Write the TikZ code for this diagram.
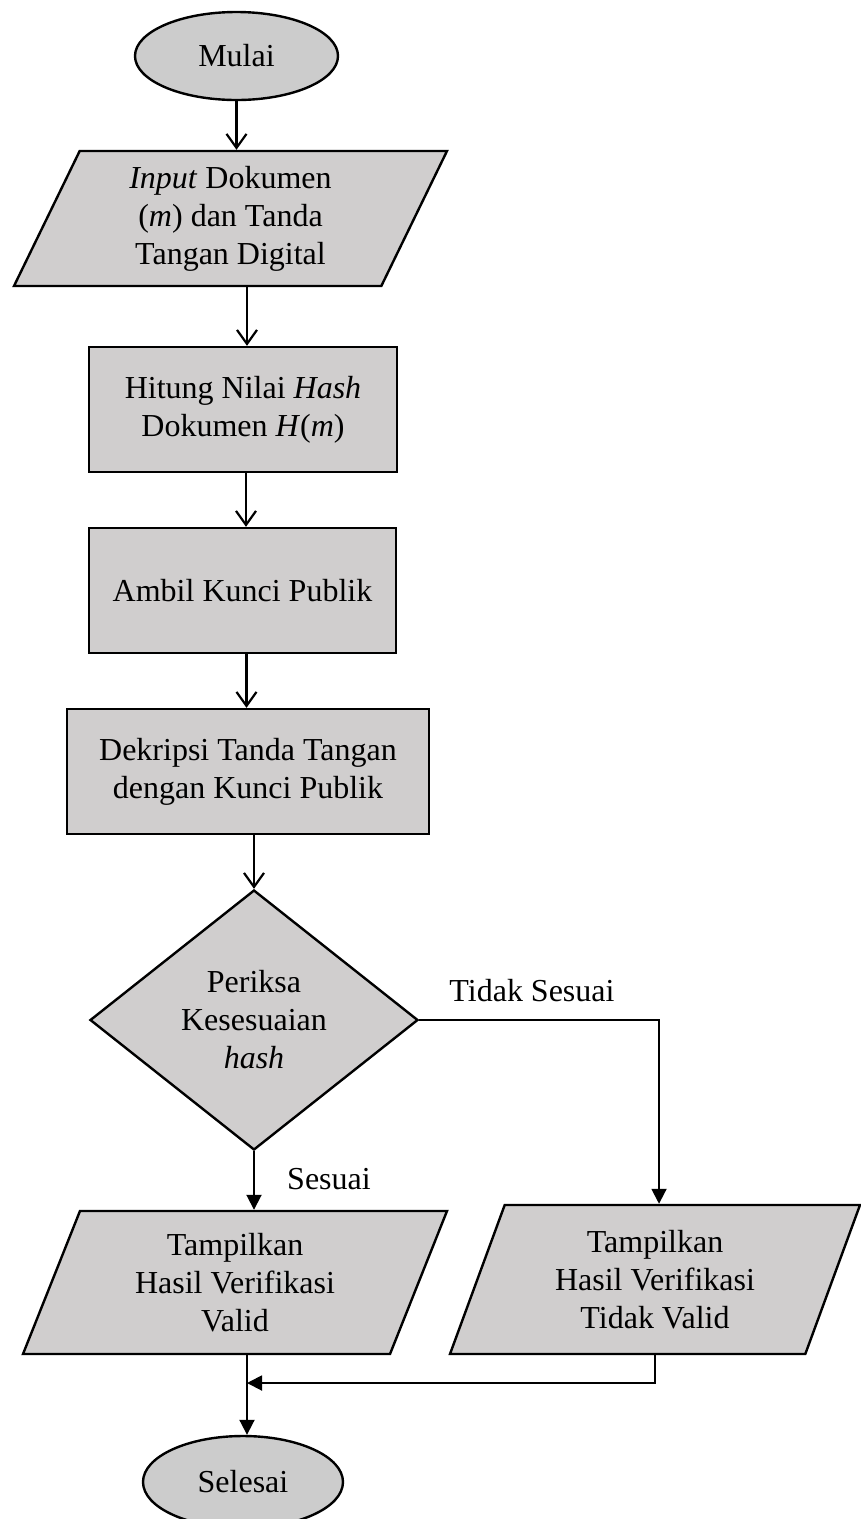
\documentclass[tikz,border=0pt]{standalone}
\usepackage{fontspec}
\setmainfont{Liberation Serif}
\usetikzlibrary{shapes.geometric,arrows.meta}
\definecolor{boxgray}{HTML}{D0CECE}
\definecolor{termgray}{HTML}{CCCCCC}
\tikzset{
  base/.style={draw=black, line width=2.4pt, fill=boxgray, inner sep=0pt,
    align=center, font=\fontsize{32}{38}\selectfont},
  term/.style={base, ellipse, fill=termgray, minimum width=200pt, minimum height=92pt},
  proc/.style={base, rectangle, minimum height=125pt},
  io/.style={base, trapezium, trapezium left angle=60, trapezium right angle=120,
    trapezium stretches body},
  decision/.style={base, diamond, minimum width=328pt, minimum height=260pt},
  lbl/.style={font=\fontsize{32}{38}\selectfont, inner sep=0pt},
  flow/.style={line width=2.2pt, -{Straight Barb[length=14pt,width=20pt]}},
  flowfill/.style={line width=1.9pt, -{Triangle[length=15pt,width=15pt]}},
}
\begin{document}
\begin{tikzpicture}[x=1pt, y=-1pt]
\useasboundingbox (0,0) rectangle (860,1519);

% main column
\node[term, minimum width=203pt, minimum height=88pt] (start) at (236.5,56) {Mulai};
\node[io, trapezium left angle=58, trapezium right angle=122,
      minimum width=433pt, minimum height=135pt] (inp) at (230.5,218.5)
  {\textit{Input} Dokumen\\(\textit{m}) dan Tanda\\Tangan Digital};
\node[proc, minimum width=308pt] (hash) at (243,409.5)
  {Hitung Nilai \textit{Hash}\\Dokumen \textit{H}(\textit{m})};
\node[proc, minimum width=307pt] (pub) at (242.5,590.5) {Ambil Kunci Publik};
\node[proc, minimum width=362pt] (dec) at (248,771.5)
  {Dekripsi Tanda Tangan\\dengan Kunci Publik};
\node[decision] (chk) at (254,1020) {Periksa\\Kesesuaian\\\textit{hash}};

% outcomes
\node[io, minimum width=424pt, minimum height=143pt] (okout) at (235,1282.5)
  {Tampilkan\\Hasil Verifikasi\\Valid};
\node[io, trapezium left angle=61, trapezium right angle=119,
      minimum width=410pt, minimum height=149pt] (bad) at (655,1279.5)
  {Tampilkan\\Hasil Verifikasi\\Tidak Valid};
\node[term] (endn) at (243,1482) {Selesai};

% branch labels
\node[lbl] (lblno) at (532,991) {Tidak Sesuai};
\node[lbl] (lblyes) at (329,1179) {Sesuai};

% join point of both outcomes
\coordinate (j) at (247,1383);

% connectors
\draw[flow] (start.south) -- (start.south |- inp.north);
\draw[flow] ([xshift=4pt]inp.south -| hash.north) -- ([xshift=4pt]hash.north);
\draw[flow] ([xshift=3pt]hash.south) -- ([xshift=3pt]hash.south |- pub.north);
\draw[flow] ([xshift=4pt]pub.south) -- ([xshift=4pt]pub.south |- dec.north);
\draw[flow] (dec.south -| chk.north) -- (chk.north);
\draw[flowfill] (chk.south) -- (chk.south |- okout.north);
\draw[flowfill] (chk.east) -| ([xshift=4pt]bad.north);
\draw[flowfill] (okout.south -| j) -- (j |- endn.north);
\draw[flowfill] (bad.south) |- (j);
\end{tikzpicture}
\end{document}
